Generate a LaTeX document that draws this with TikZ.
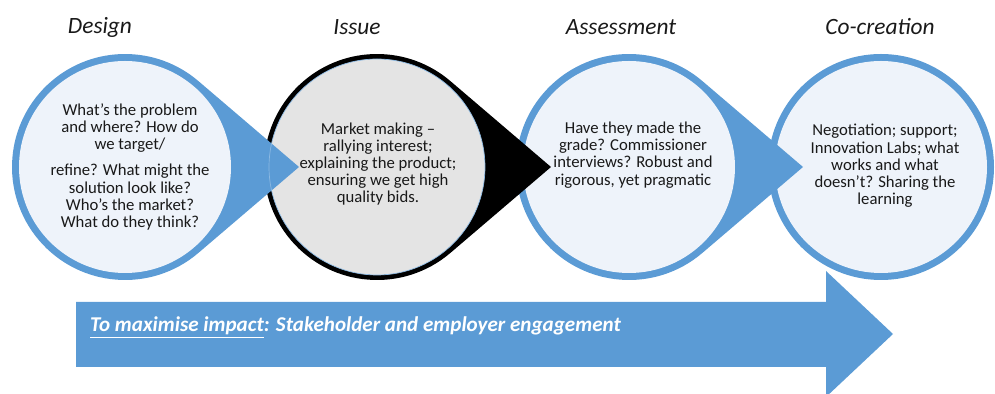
\documentclass[tikz,border=0pt]{standalone}
\usepackage{fontspec}
\setmainfont{Carlito}

\definecolor{stageblue}{HTML}{5B9BD5}
\definecolor{stagefill}{HTML}{EEF3FA}
\definecolor{issuegray}{HTML}{E4E4E4}

\tikzset{
  stagetext/.style={align=center, text=black!90, font=\fontsize{9.5}{9.8}\selectfont},
  stagetitle/.style={text=black!90, font=\fontsize{13.3}{15}\selectfont\itshape},
}

\begin{document}
\begin{tikzpicture}[x=0.02cm, y=-0.02cm]
\useasboundingbox (0,0) rectangle (995,394);

% last stage, no pointer
\fill[stageblue] (881,167) circle (113);
\fill[stagefill] (881,167) circle (106);

% the other stages, right to left so each pointer lies on the next circle
\foreach \cx/\ring/\inner/\w in {629/stageblue/stagefill/7, 377/black/issuegray/5, 125/stageblue/stagefill/7}{
  \begin{scope}[shift={(\cx,167)}]
  \fill[\ring] (174,0) -- (49.5:113) arc[start angle=49.5, end angle=310.5, radius=113] -- cycle;
  \fill[\inner] (0,0) circle ({113-\w});
  \end{scope}
}
\draw[stageblue!70, line width=0.4pt] (377,167) circle (108);

% titles
\node[stagetitle] (designtitle) at (100,27) {Design};
\node[stagetitle] (issuetitle) at (357,27) {Issue};
\node[stagetitle] (assesstitle) at (621,27) {Assessment};
\node[stagetitle] (cocreatetitle) at (880,27) {Co-creation};

% texts in the circles
\node[stagetext] (designtext) at (130,167) {What’s the problem\\and where? How do\\we target/\\[5pt]refine? What might the\\solution look like?\\Who’s the market?\\What do they think?};
\node[stagetext] (issuetext) at (378,164) {Market making –\\rallying interest;\\explaining the product;\\ensuring we get high\\quality bids.};
\node[stagetext] (assesstext) at (633,155) {Have they made the\\grade? Commissioner\\interviews? Robust and\\rigorous, yet pragmatic};
\node[stagetext] (cocreatetext) at (885,166) {Negotiation; support;\\Innovation Labs; what\\works and what\\doesn't? Sharing the\\learning};

% bottom arrow
\fill[stageblue] (76,302) -- (826,302) -- (826,271) -- (893,334) -- (826,397) -- (826,367) -- (76,367) -- cycle;
\node[anchor=base west, text=white, font=\fontsize{12}{14}\selectfont\bfseries\itshape] (impact) at (84,332) {\underline{To maximise impact}: Stakeholder and employer engagement};
\end{tikzpicture}
\end{document}
